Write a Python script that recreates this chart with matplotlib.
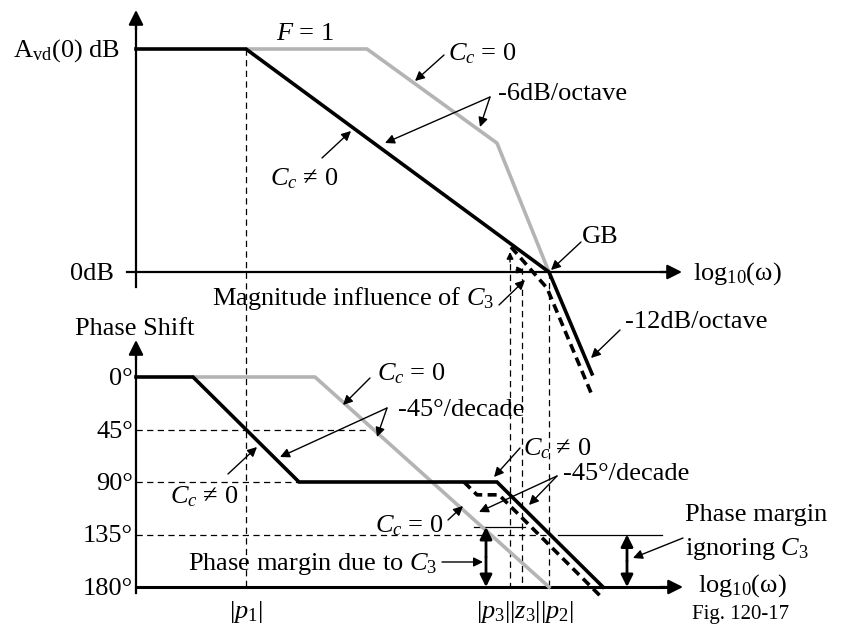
import matplotlib
matplotlib.use("Agg")
import matplotlib.pyplot as plt

plt.rcParams['font.family'] = ['Liberation Serif', 'DejaVu Serif']
plt.rcParams['mathtext.fontset'] = 'custom'
plt.rcParams['mathtext.rm'] = 'Liberation Serif'
plt.rcParams['mathtext.it'] = 'Liberation Serif:italic'

# ---------------- data (x in figure px, magnitude normalized 0..1, phase in degrees) -------------
# Magnitude asymptotes
mag_cc_x = [136, 246, 549, 592]          # Cc != 0
mag_cc_v = [1.0, 1.0, 0.0, -0.457]
mag_c0_x = [246, 367, 497, 549]          # Cc = 0
mag_c0_v = [1.0, 1.0, 0.578, 0.0]
mag_c3_x = [511, 547, 592]               # influence of C3 (dashed)
mag_c3_v = [0.112, -0.072, -0.552]

# Phase asymptotes (degrees)
ph_cc_x = [136, 193, 299, 497, 603]      # Cc != 0
ph_cc_d = [0, 0, 90, 90, 180]
ph_c0_x = [193, 315, 549]                # Cc = 0
ph_c0_d = [0, 0, 180]
ph_c3_x = [464, 477, 499, 603]           # with C3 (dashed)
ph_c3_d = [90, 101, 101, 190]

phase_ticks = [0, 45, 90, 135, 180]
phase_tick_labels = ['0°', '45°', '90°', '135°', '180°']

# ---------------- mapping to drawing coordinates -----------------
MAG0, MAG1 = 272, 49
PH0, PH180 = 377, 587
def mag(v):
    return MAG0 - v * (MAG0 - MAG1)
def ph(d):
    return PH0 + d * (PH180 - PH0) / 180.0

fig = plt.figure(figsize=(8.41, 6.26), dpi=100)
ax = fig.add_axes([0, 0, 1, 1])
ax.set_xlim(0, 841)
ax.set_ylim(626, 0)
ax.axis('off')

FS = 19
K = 'black'
GRAY = '#b4b4b4'
DY = 2  # text vertical nudge

def txt(x, y, s, ha='left', fs=FS):
    ax.text(x, y + DY, s, fontsize=fs, ha=ha, va='center')

def arrow(x0, y0, x1, y1, lw=1.0, ms=14, style='-|>'):
    ax.annotate('', xy=(x1, y1), xytext=(x0, y0),
                arrowprops=dict(arrowstyle=style, color=K, lw=lw, mutation_scale=ms,
                                shrinkA=0, shrinkB=0))

# axes
ax.plot([136, 136], [287, 22], color=K, lw=1.6)
arrow(136, 30, 136, 10, lw=1.6, ms=22)
ax.plot([127, 672], [MAG0, MAG0], color=K, lw=1.6)
arrow(660, MAG0, 682, MAG0, lw=1.6, ms=22)

ax.plot([136, 136], [593, 355], color=K, lw=1.6)
arrow(136, 360, 136, 340, lw=1.6, ms=22)
ax.plot([136, 672], [PH180, PH180], color=K, lw=2.2)
arrow(660, PH180, 683, PH180, lw=1.6, ms=22)

# thin dashed guides
dash = dict(color=K, lw=0.9, ls=(0, (5, 3.5)))
ax.plot([246, 246], [mag(1.0), PH180], **dash)
ax.plot([510, 510], [253, PH180], **dash)
ax.plot([522, 522], [268, PH180], **dash)
ax.plot([549, 549], [MAG0, PH180], **dash)
ax.plot([136, 368], [ph(45), ph(45)], **dash)
ax.plot([136, 299], [ph(90), ph(90)], **dash)
ax.plot([136, 549], [ph(135), ph(135)], **dash)
ax.plot([558, 662], [ph(135), ph(135)], color=K, lw=0.9)
ax.plot([474, 525], [527, 527], color=K, lw=0.9)

# magnitude curves
ax.plot(mag_c0_x, [mag(v) for v in mag_c0_v], color=GRAY, lw=2.6, solid_capstyle='butt')
ax.plot(mag_cc_x, [mag(v) for v in mag_cc_v], color=K, lw=2.6, solid_joinstyle='miter')
ax.plot(mag_c3_x, [mag(v) for v in mag_c3_v], color=K, lw=2.6, ls=(0, (2.5, 1.5)))

# phase curves
ax.plot(ph_c0_x, [ph(d) for d in ph_c0_d], color=GRAY, lw=2.6)
ax.plot(ph_cc_x, [ph(d) for d in ph_cc_d], color=K, lw=2.6, solid_joinstyle='miter')
ax.plot(ph_c3_x, [ph(d) for d in ph_c3_d], color=K, lw=2.6, ls=(0, (2.5, 1.5)))

# labels on axes
txt(120, mag(1.0), r'A$_{\mathrm{vd}}$(0) dB', ha='right')
txt(114, MAG0, '0dB', ha='right')
txt(693, MAG0, r'log$_{10}$(ω)')
txt(698, PH180 - 3, r'log$_{10}$(ω)')
txt(135, 327, 'Phase Shift', ha='center')
for d, lab in zip(phase_ticks, phase_tick_labels):
    txt(133, ph(d), lab, ha='right')
txt(246, 610, r'|$p_1$|', ha='center')
txt(525, 610, r'|$p_3$||$z_3$||$p_2$|', ha='center')
txt(741, 613, 'Fig. 120-17', ha='center', fs=15)

# magnitude annotations
txt(305, 32, r'$F$ = 1', ha='center')
txt(448, 52, r'$C_c$ = 0')
arrow(444, 55, 415, 81)
txt(498, 92, '-6dB/octave')
arrow(490, 97, 385, 143)
arrow(490, 97, 480, 127)
txt(270, 177, r'$C_c$ ≠ 0')
arrow(322, 158, 351, 131)
txt(582, 235, 'GB')
arrow(581, 242, 551, 270)
txt(212, 296, r'Magnitude influence of $C_3$')
arrow(499, 305, 525, 280)
arrow(510, 262, 510, 252, ms=10)
arrow(516, 270, 524, 270, ms=10)
txt(625, 320, '-12dB/octave')
arrow(620, 330, 591, 358)

# phase annotations
txt(377, 372, r'$C_c$ = 0')
arrow(370, 378, 343, 405)
txt(398, 408, '-45°/decade')
arrow(387, 408, 280, 457)
arrow(387, 408, 377, 437)
txt(170, 495, r'$C_c$ ≠ 0')
arrow(228, 474, 257, 447)
txt(523, 447, r'$C_c$ ≠ 0')
arrow(520, 448, 494, 477)
txt(563, 472, '-45°/decade')
arrow(557, 476, 479, 512)
arrow(557, 476, 529, 505)
txt(375, 524, r'$C_c$ = 0')
arrow(448, 520, 463, 506)
txt(188, 562, r'Phase margin due to $C_3$')
arrow(442, 562, 483, 562)
arrow(486, 557, 486, 527, lw=2, ms=18)
arrow(486, 557, 486, PH180, lw=2, ms=18)
txt(685, 513, 'Phase margin')
txt(685, 547, r'ignoring $C_3$')
arrow(683, 538, 633, 558)
arrow(627, 561, 627, ph(135), lw=2, ms=18)
arrow(627, 561, 627, PH180, lw=2, ms=18)

fig.savefig('out.png', dpi=100)
